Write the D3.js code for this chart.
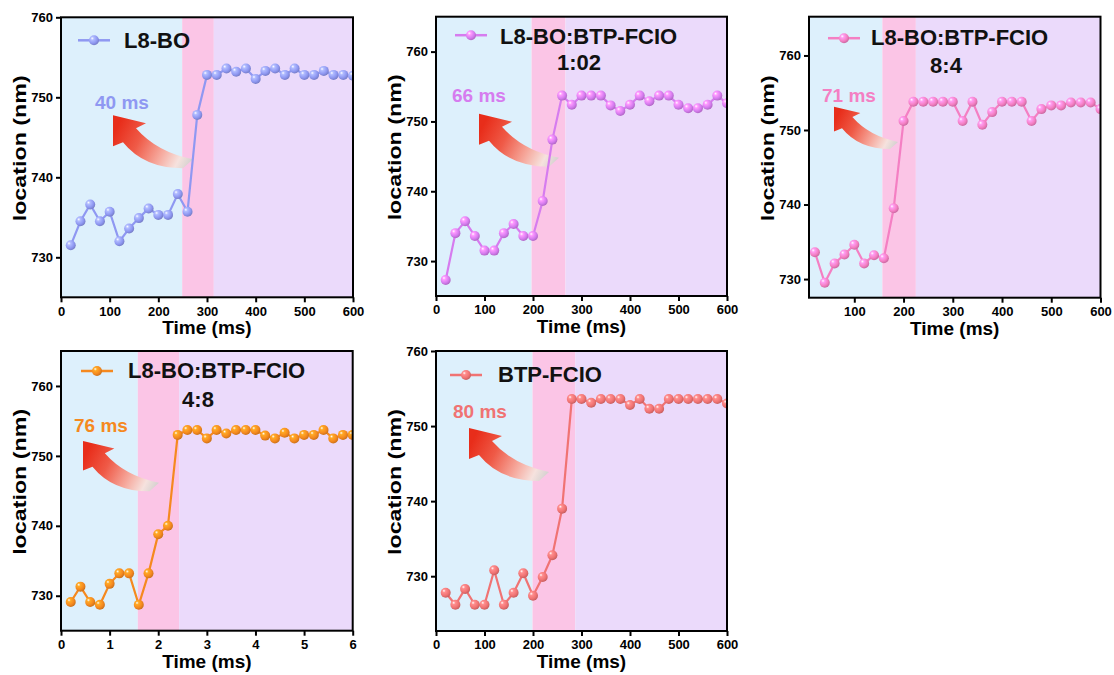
<!DOCTYPE html>
<html>
<head>
<meta charset="utf-8">
<script src="https://cdn.jsdelivr.net/npm/d3@7"></script>
<style>
  body { margin: 0; background: #fff; }
  svg { display: block; font-family: Arial, "Liberation Sans", sans-serif; }
</style>
</head>
<body>
<svg id="fig" width="1114" height="675"></svg>
<script>
// ---- data -------------------------------------------------------------
const timeMs = [20, 40, 60, 80, 100, 120, 140, 160, 180, 200, 220, 240, 260, 280, 300,
                320, 340, 360, 380, 400, 420, 440, 460, 480, 500, 520, 540, 560, 580, 600];
const timeShort = [0.2, 0.4, 0.6, 0.8, 1.0, 1.2, 1.4, 1.6, 1.8, 2.0, 2.2, 2.4, 2.6, 2.8, 3.0,
                   3.2, 3.4, 3.6, 3.8, 4.0, 4.2, 4.4, 4.6, 4.8, 5.0, 5.2, 5.4, 5.6, 5.8, 6.0];

const locL8BO = [731.5, 734.5, 736.6, 734.5, 735.7, 732.0, 733.6, 734.9, 736.1, 735.3,
                 735.3, 737.9, 735.7, 747.8, 752.8, 752.8, 753.6, 753.2, 753.6, 752.3,
                 753.3, 753.6, 752.8, 753.6, 752.8, 752.8, 753.3, 752.8, 752.8, 752.7];
const locBlend102 = [727.3, 734.0, 735.7, 733.6, 731.5, 731.5, 734.0, 735.3, 733.6, 733.6,
                     738.6, 747.4, 753.7, 752.4, 753.7, 753.7, 753.7, 752.3, 751.5, 752.4,
                     753.7, 752.9, 753.7, 753.7, 752.4, 751.9, 751.9, 752.4, 753.7, 752.6];
const locBlend84 = [733.6, 729.5, 732.1, 733.3, 734.6, 732.1, 733.2, 732.8, 739.5, 751.2,
                    753.8, 753.8, 753.8, 753.8, 753.8, 751.2, 753.8, 750.7, 752.4, 753.8,
                    753.8, 753.8, 751.2, 752.8, 753.3, 753.3, 753.7, 753.7, 753.7, 752.8];
const locBlend48 = [729.1, 731.3, 729.1, 728.7, 731.7, 733.2, 733.2, 728.7, 733.2, 738.8,
                    740.0, 753.0, 753.7, 753.7, 752.5, 753.7, 753.2, 753.7, 753.7, 753.7,
                    752.9, 752.5, 753.3, 752.5, 753.0, 753.0, 753.7, 752.5, 753.0, 753.0];
const locBTPFCIO = [727.8, 726.2, 728.3, 726.2, 726.2, 730.8, 726.2, 727.8, 730.4, 727.4,
                    729.9, 732.8, 739.0, 753.6, 753.6, 753.1, 753.6, 753.6, 753.6, 752.8,
                    753.6, 752.3, 752.3, 753.6, 753.6, 753.6, 753.6, 753.6, 753.6, 753.0];

// phase boundaries on the time axis: [start, nucleation start, nucleation end, end]
const phasesL8BO = [0, 249, 314, 600];
const phases102 = [0, 197, 267, 600];
const phases84 = [8, 157, 225, 600];
const phases48 = [0, 1.58, 2.43, 6];
const phasesBTP = [0, 199, 287, 600];

const seriesNames = ["L8-BO", "L8-BO:BTP-FCIO", "L8-BO:BTP-FCIO", "L8-BO:BTP-FCIO", "BTP-FCIO"];
const ratioLabels = [null, "1:02", "8:4", "4:8", null];
const durationLabels = ["40 ms", "66 ms", "71 ms", "76 ms", "80 ms"];

const ticksY = [730, 740, 750, 760];
const ticksMs = [0, 100, 200, 300, 400, 500, 600];
const ticksMs3 = [100, 200, 300, 400, 500, 600];
const ticksShort = [0, 1, 2, 3, 4, 5, 6];

// ---- layout & style ---------------------------------------------------
const panels = [
  { x: timeMs, y: locL8BO, phases: phasesL8BO, xDom: [0, 600], yDom: [725, 760], xt: ticksMs,
    box: [61, 17.3, 353, 297.3], color: "#8f98f2",
    leg: { lx: 17, ly: 23, tx: 63, ty: 31 }, lab: [34, 92], arrow: [52, 98, 1] },
  { x: timeMs, y: locBlend102, phases: phases102, xDom: [0, 600], yDom: [725, 765], xt: ticksMs,
    box: [436, 16.7, 727, 296], color: "#d67cef",
    leg: { lx: 19, ly: 18.5, tx: 64, ty: 27.5, r2x: 143, r2y: 53.5 }, lab: [16, 85], arrow: [43, 97, 1] },
  { x: timeMs, y: locBlend84, phases: phases84, xDom: [8, 600], yDom: [727.5, 765.2], xt: ticksMs3,
    box: [809, 16.7, 1100.5, 297.7], color: "#f47fc3",
    leg: { lx: 19, ly: 21.5, tx: 62, ty: 28.5, r2x: 137, r2y: 56.5 }, lab: [13, 85], arrow: [25, 90, 0.8] },
  { x: timeShort, y: locBlend48, phases: phases48, xDom: [0, 6], yDom: [725, 765], xt: ticksShort,
    box: [61, 351, 352.7, 630.7], color: "#f5891f",
    leg: { lx: 20, ly: 20, tx: 67, ty: 27, r2x: 137, r2y: 56 }, lab: [13, 81], arrow: [22, 90, 0.95] },
  { x: timeMs, y: locBTPFCIO, phases: phasesBTP, xDom: [0, 600], yDom: [722.7, 760], xt: ticksMs,
    box: [436, 351, 727, 631], color: "#f07373",
    leg: { lx: 14, ly: 24, tx: 62, ty: 31 }, lab: [17, 67], arrow: [33, 77, 1] }
];
const phaseFills = ["#ddf0fc", "#fbc5e6", "#ebdafb"];

const svg = d3.select("#fig");
const defs = svg.append("defs");

// arrow gradient (tip red -> tail grey)
const ag = defs.append("linearGradient").attr("id", "arrowGrad")
  .attr("gradientUnits", "userSpaceOnUse")
  .attr("x1", 4).attr("y1", 12).attr("x2", 80).attr("y2", 50);
[[0, "#e82d1a"], [0.3, "#ef5a47"], [0.6, "#f6a89c"], [0.82, "#f6e2de"], [1, "#cdcdcd"]]
  .forEach(([o, c]) => ag.append("stop").attr("offset", o).attr("stop-color", c));

const arrowPath = "M0,0 L33,8 L23,13 Q44,37 80,44 L70,53 Q31,53 10,27 L0,31 Z";

panels.forEach((p, i) => {
  const [x0, y0, x1, y1] = p.box;
  const w = x1 - x0, h = y1 - y0;
  const g = svg.append("g").attr("transform", `translate(${x0},${y0})`);
  const xs = d3.scaleLinear().domain(p.xDom).range([0, w]);
  const ys = d3.scaleLinear().domain(p.yDom).range([h, 0]);

  // sphere-like marker gradient
  const c = d3.color(p.color);
  const rg = defs.append("radialGradient").attr("id", "ball" + i)
    .attr("cx", "38%").attr("cy", "35%").attr("r", "65%").attr("fx", "32%").attr("fy", "30%");
  rg.append("stop").attr("offset", 0).attr("stop-color", "#ffffff");
  rg.append("stop").attr("offset", 0.25).attr("stop-color", c.brighter(0.6).formatHex());
  rg.append("stop").attr("offset", 0.7).attr("stop-color", p.color);
  rg.append("stop").attr("offset", 1).attr("stop-color", c.darker(0.5).formatHex());

  defs.append("clipPath").attr("id", "clip" + i)
    .append("rect").attr("width", w).attr("height", h);

  const plot = g.append("g").attr("clip-path", `url(#clip${i})`);

  // background phases
  plot.selectAll("rect.phase").data(d3.pairs(p.phases)).join("rect")
    .attr("class", "phase")
    .attr("x", d => xs(d[0])).attr("width", d => xs(d[1]) - xs(d[0]))
    .attr("y", 0).attr("height", h)
    .attr("fill", (d, k) => phaseFills[k]);

  // curved arrow
  const [ax, ay, as] = p.arrow;
  plot.append("path").attr("d", arrowPath)
    .attr("transform", `translate(${ax},${ay}) scale(${as})`)
    .attr("fill", "url(#arrowGrad)");

  // duration label
  plot.append("text").attr("x", p.lab[0]).attr("y", p.lab[1])
    .attr("font-size", 19).attr("font-weight", "bold").attr("fill", p.color)
    .text(durationLabels[i]);

  // series line and markers
  const pts = p.x.map((t, k) => [t, p.y[k]]);
  plot.append("path").datum(pts)
    .attr("d", d3.line().x(d => xs(d[0])).y(d => ys(d[1])))
    .attr("fill", "none").attr("stroke", p.color).attr("stroke-width", 2.2);
  plot.selectAll("circle.pt").data(pts).join("circle")
    .attr("class", "pt")
    .attr("cx", d => xs(d[0])).attr("cy", d => ys(d[1])).attr("r", 5)
    .attr("fill", `url(#ball${i})`);

  // legend
  const L = p.leg;
  g.append("line").attr("x1", L.lx).attr("x2", L.lx + 32).attr("y1", L.ly).attr("y2", L.ly)
    .attr("stroke", p.color).attr("stroke-width", 2.5);
  g.append("circle").attr("cx", L.lx + 16).attr("cy", L.ly).attr("r", 5)
    .attr("fill", `url(#ball${i})`);
  g.append("text").attr("x", L.tx).attr("y", L.ty)
    .attr("font-size", 22).attr("font-weight", "bold").attr("fill", "#111")
    .text(seriesNames[i]);
  if (ratioLabels[i]) {
    g.append("text").attr("x", L.r2x).attr("y", L.r2y).attr("text-anchor", "middle")
      .attr("font-size", 22).attr("font-weight", "bold").attr("fill", "#111")
      .text(ratioLabels[i]);
  }

  // axes
  const ax1 = g.append("g").attr("transform", `translate(0,${h})`)
    .call(d3.axisBottom(xs).tickValues(p.xt).tickSize(5).tickPadding(4).tickFormat(d3.format("d")));
  const ax2 = g.append("g")
    .call(d3.axisLeft(ys).tickValues(ticksY).tickSize(5).tickPadding(3).tickFormat(d3.format("d")));
  [ax1, ax2].forEach(a => {
    a.select(".domain").remove();
    a.selectAll(".tick line").attr("stroke", "#000").attr("stroke-width", 2);
    a.selectAll(".tick text").attr("font-size", 13).attr("font-weight", "bold")
      .attr("fill", "#000").attr("font-family", "Arial, 'Liberation Sans', sans-serif");
  });

  // frame
  g.append("rect").attr("width", w).attr("height", h)
    .attr("fill", "none").attr("stroke", "#000").attr("stroke-width", 2);

  // axis titles
  g.append("text").attr("x", w / 2).attr("y", h + 37).attr("text-anchor", "middle")
    .attr("font-size", 19).attr("font-weight", "bold").attr("fill", "#000")
    .text("Time (ms)");
  g.append("text").attr("transform", `translate(-35,${h / 2 - 9}) rotate(-90)`)
    .attr("text-anchor", "middle").attr("font-size", 19).attr("font-weight", "bold")
    .attr("fill", "#000").attr("textLength", 146).attr("lengthAdjust", "spacingAndGlyphs")
    .text("location (nm)");
});
</script>
</body>
</html>
